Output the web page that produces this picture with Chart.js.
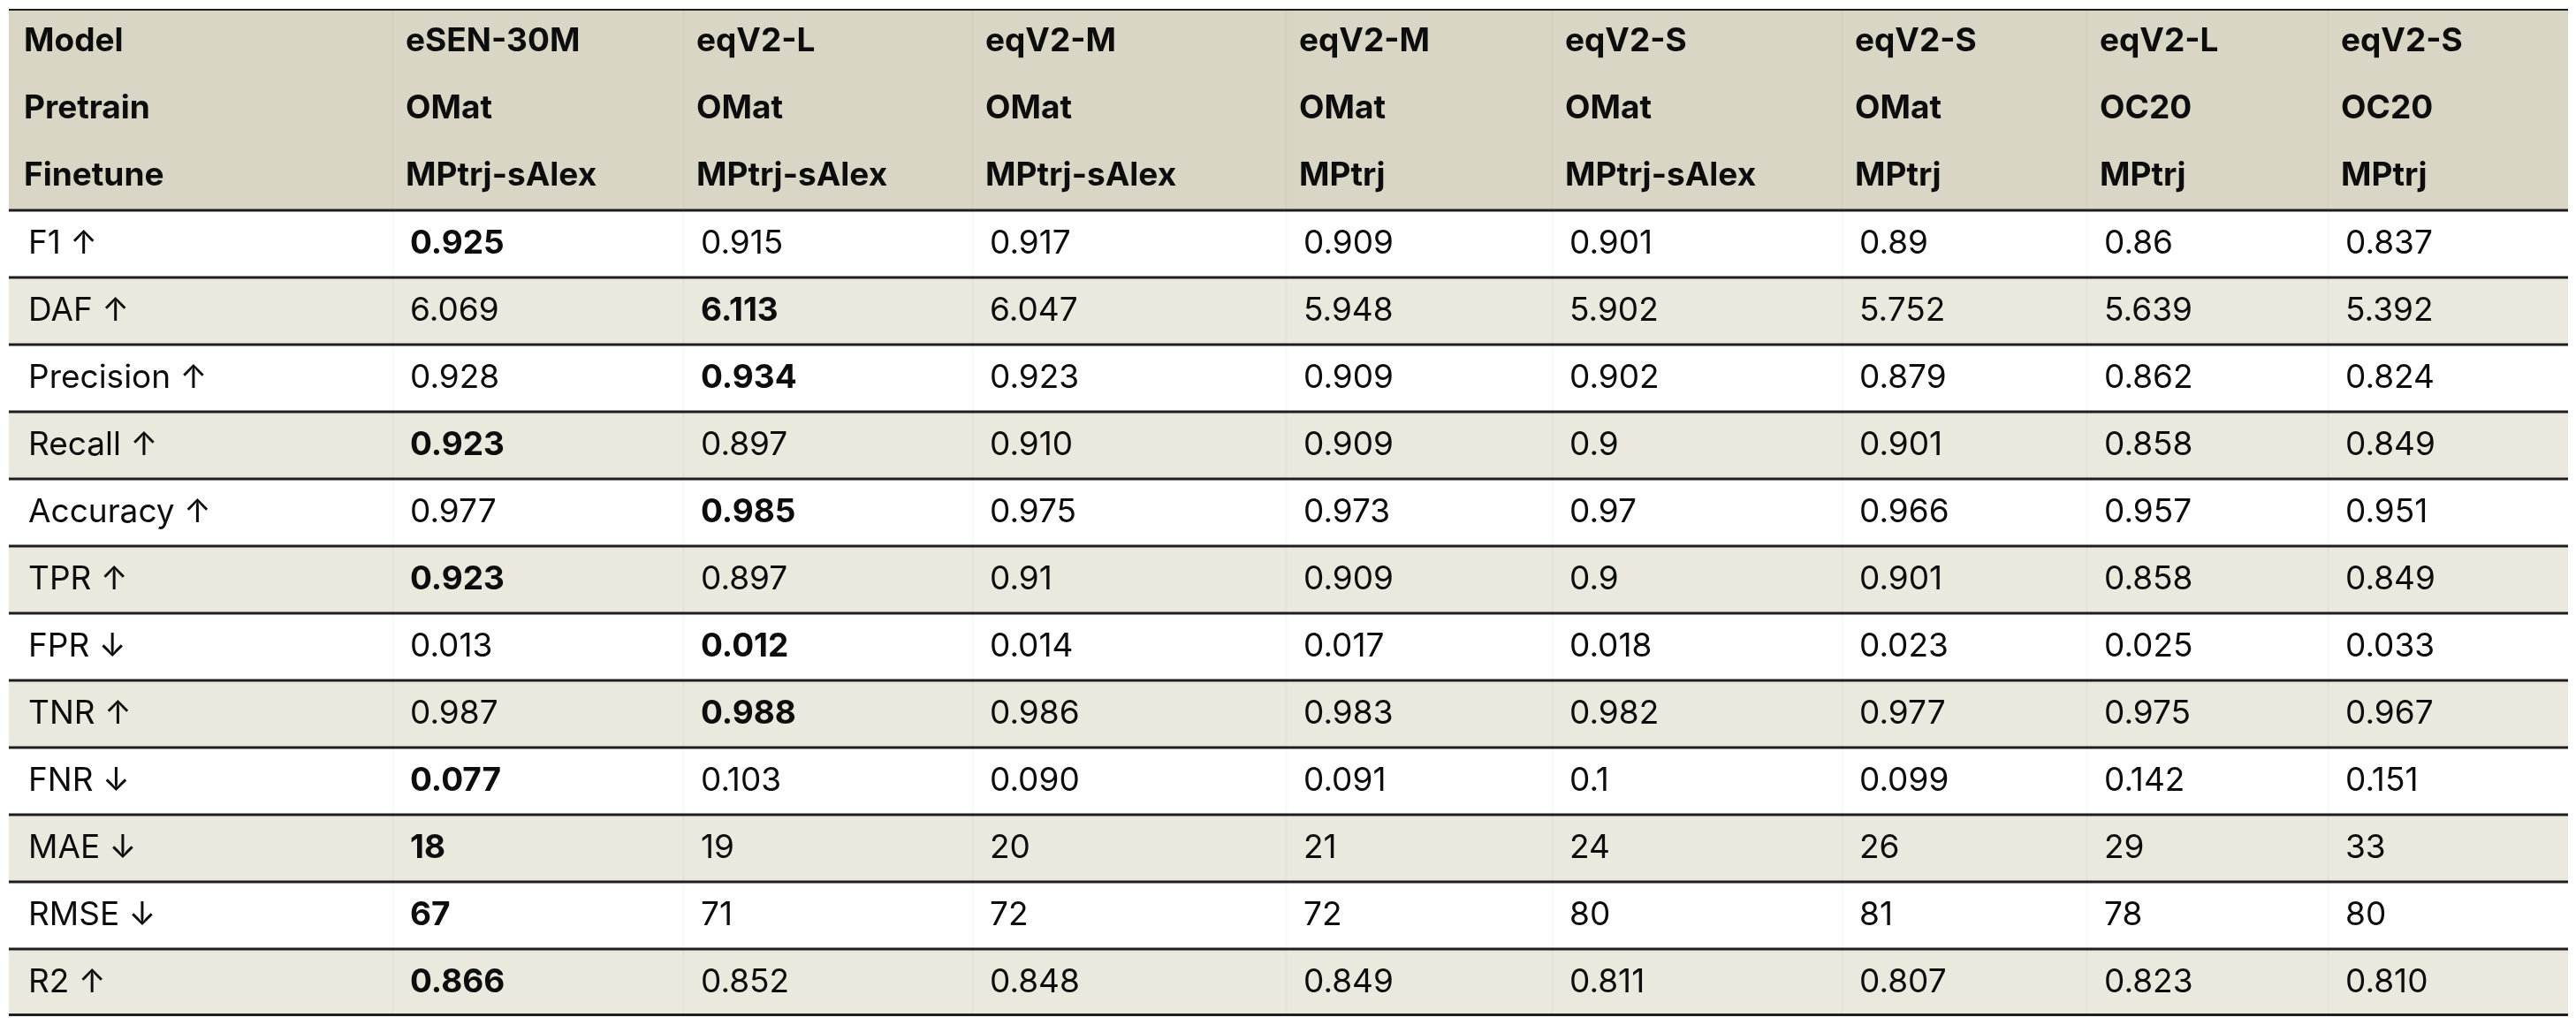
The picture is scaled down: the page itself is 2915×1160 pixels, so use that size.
<!DOCTYPE html>
<html>
<head>
<meta charset="utf-8">
<script src="https://cdn.jsdelivr.net/npm/chart.js@4.4.1/dist/chart.umd.min.js"></script>
<style>
  html, body { margin: 0; padding: 0; background: #ffffff; }
  #wrap { width: 2915px; height: 1160px; position: relative; }
</style>
</head>
<body>
<div id="wrap"><canvas id="c"></canvas></div>
<script>
// ---------- data ----------
const models    = ["eSEN-30M", "eqV2-L", "eqV2-M", "eqV2-M", "eqV2-S", "eqV2-S", "eqV2-L", "eqV2-S"];
const pretrain  = ["OMat", "OMat", "OMat", "OMat", "OMat", "OMat", "OC20", "OC20"];
const finetune  = ["MPtrj-sAlex", "MPtrj-sAlex", "MPtrj-sAlex", "MPtrj", "MPtrj-sAlex", "MPtrj", "MPtrj", "MPtrj"];

const metricNames = ["F1", "DAF", "Precision", "Recall", "Accuracy", "TPR", "FPR", "TNR", "FNR", "MAE", "RMSE", "R2"];
const directions  = ["↑", "↑", "↑", "↑", "↑", "↑", "↓", "↑", "↓", "↓", "↓", "↑"];

const F1        = ["0.925", "0.915", "0.917", "0.909", "0.901", "0.89",  "0.86",  "0.837"];
const DAF       = ["6.069", "6.113", "6.047", "5.948", "5.902", "5.752", "5.639", "5.392"];
const Precision = ["0.928", "0.934", "0.923", "0.909", "0.902", "0.879", "0.862", "0.824"];
const Recall    = ["0.923", "0.897", "0.910", "0.909", "0.9",   "0.901", "0.858", "0.849"];
const Accuracy  = ["0.977", "0.985", "0.975", "0.973", "0.97",  "0.966", "0.957", "0.951"];
const TPR       = ["0.923", "0.897", "0.91",  "0.909", "0.9",   "0.901", "0.858", "0.849"];
const FPR       = ["0.013", "0.012", "0.014", "0.017", "0.018", "0.023", "0.025", "0.033"];
const TNR       = ["0.987", "0.988", "0.986", "0.983", "0.982", "0.977", "0.975", "0.967"];
const FNR       = ["0.077", "0.103", "0.090", "0.091", "0.1",   "0.099", "0.142", "0.151"];
const MAE       = ["18", "19", "20", "21", "24", "26", "29", "33"];
const RMSE      = ["67", "71", "72", "72", "80", "81", "78", "80"];
const R2        = ["0.866", "0.852", "0.848", "0.849", "0.811", "0.807", "0.823", "0.810"];

const metricValues = [F1, DAF, Precision, Recall, Accuracy, TPR, FPR, TNR, FNR, MAE, RMSE, R2];
const headerLabels = ["Model", "Pretrain", "Finetune"];
const headerValues = [models, pretrain, finetune];

// ---------- layout / style (not data) ----------
const TABLE_W = 2896;                 // table width in layout units (x scale)
const colStart = [17, 449, 778, 1105, 1460, 1761, 2089, 2366, 2639]; // text start of each column
const dataShift = 5;                  // data text sits slightly right of header text
const cellPad = 15;
const HEADER_BG = "#d9d6c5";
const STRIPE_BG = "#ebe9de";
const WHITE_BG  = "#ffffff";
const HEAD_FONT = "bold 37px Inter, Roboto, 'Liberation Sans', sans-serif";
const BODY_FONT = "37px Inter, Roboto, 'Liberation Sans', sans-serif";
const BOLD_FONT = "bold 37px Inter, Roboto, 'Liberation Sans', sans-serif";

// rows of the table (category axis)
const rowKeys = headerLabels.concat(metricNames);
const rowColors = rowKeys.map((k, i) => i < 3 ? HEADER_BG : ((i - 3) % 2 === 0 ? WHITE_BG : STRIPE_BG));

function bestIndex(vals, dir) {
  const nums = vals.map(Number);
  const target = dir === "↑" ? Math.max(...nums) : Math.min(...nums);
  return nums.indexOf(target);
}

const tablePlugin = {
  id: "tableText",
  afterDatasetsDraw(chart) {
    const ctx = chart.ctx;
    const xs = chart.scales.x, ys = chart.scales.y;
    const left = chart.chartArea.left, right = chart.chartArea.right;
    const top = chart.chartArea.top, bottom = chart.chartArea.bottom;
    const rowMid = i => ys.getPixelForValue(i);
    const boundary = i => (ys.getPixelForValue(i) + ys.getPixelForValue(i + 1)) / 2;

    ctx.save();
    // faint cell separators
    ctx.strokeStyle = "rgba(0,0,0,0.022)";
    ctx.lineWidth = 2;
    for (let c = 1; c < colStart.length; c++) {
      const x = Math.round(xs.getPixelForValue(colStart[c] - cellPad)) + 0.5;
      ctx.beginPath(); ctx.moveTo(x, top); ctx.lineTo(x, bottom); ctx.stroke();
    }

    // header text
    ctx.textBaseline = "middle";
    ctx.textAlign = "left";
    ctx.fillStyle = "#0d0d0d";
    ctx.font = HEAD_FONT;
    for (let r = 0; r < 3; r++) {
      const y = rowMid(r) - 1;
      ctx.fillText(headerLabels[r], xs.getPixelForValue(colStart[0]), y);
      headerValues[r].forEach((t, c) => ctx.fillText(t, xs.getPixelForValue(colStart[c + 1]), y));
    }
    // body text
    metricNames.forEach((name, m) => {
      const r = m + 3;
      const y = rowMid(r);
      ctx.font = BODY_FONT;
      ctx.fillStyle = "#0d0d0d";
      ctx.fillText(name + " " + directions[m], xs.getPixelForValue(colStart[0] + dataShift), y);
      const best = bestIndex(metricValues[m], directions[m]);
      metricValues[m].forEach((t, c) => {
        ctx.font = c === best ? BOLD_FONT : BODY_FONT;
        ctx.fillText(t, xs.getPixelForValue(colStart[c + 1] + dataShift), y);
      });
    });

    // horizontal rules
    ctx.strokeStyle = "#1e1e1e";
    ctx.lineWidth = 2;
    ctx.beginPath(); ctx.moveTo(left, top + 1); ctx.lineTo(right, top + 1); ctx.stroke();
    ctx.lineWidth = 3;
    for (let i = 2; i < rowKeys.length - 1; i++) {
      const y = boundary(i);
      ctx.beginPath(); ctx.moveTo(left, y); ctx.lineTo(right, y); ctx.stroke();
    }
    ctx.beginPath(); ctx.moveTo(left, bottom - 1.5); ctx.lineTo(right, bottom - 1.5); ctx.stroke();
    ctx.restore();
  }
};

new Chart(document.getElementById("c"), {
  type: "bar",
  data: {
    labels: rowKeys,
    datasets: [{
      data: rowKeys.map(() => [0, TABLE_W]),
      backgroundColor: rowColors,
      borderWidth: 0,
      barPercentage: 1,
      categoryPercentage: 1
    }]
  },
  options: {
    indexAxis: "y",
    responsive: true,
    maintainAspectRatio: false,
    animation: false,
    layout: { padding: { left: 10, right: 9, top: 10, bottom: 10 } },
    plugins: { legend: { display: false }, tooltip: { enabled: false } },
    scales: {
      x: { type: "linear", min: 0, max: TABLE_W, display: false },
      y: { type: "category", display: false, offset: true }
    }
  },
  plugins: [tablePlugin]
});
</script>
</body>
</html>
